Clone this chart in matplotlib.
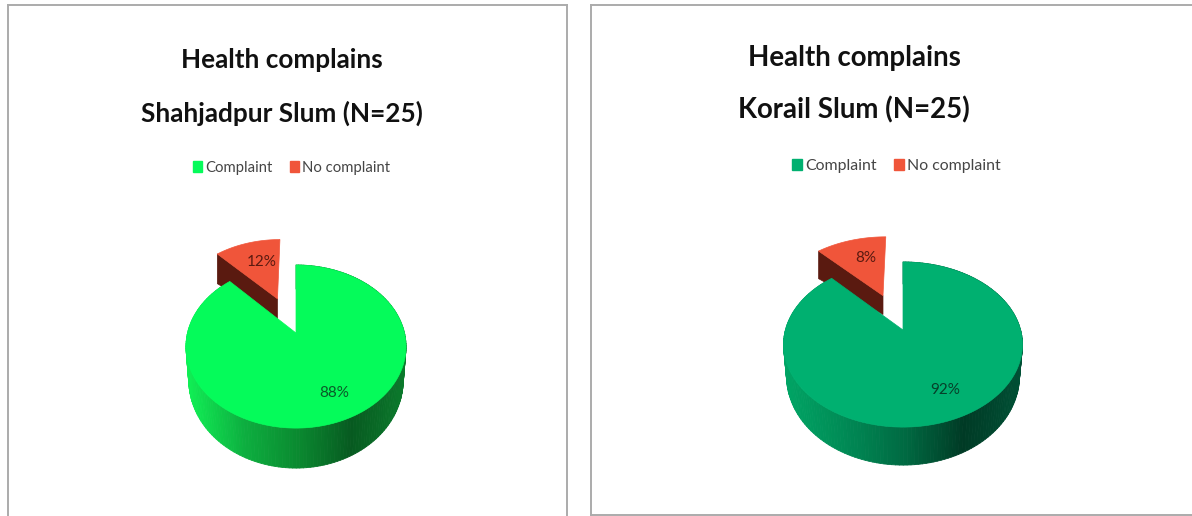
#!/usr/bin/env python3
# Two pseudo-3D exploded pies. ax.pie gives the wedges on the unit disc, a small
# perspective projection then puts them on screen (pixel coordinates per panel).
import numpy as np
import matplotlib
matplotlib.use("Agg")
import matplotlib.pyplot as plt
from matplotlib.collections import PolyCollection
from matplotlib.colors import LinearSegmentedColormap
from matplotlib.patches import Patch, Polygon

plt.rcParams["font.family"] = ["Lato", "DejaVu Sans"]

W, H = 1192, 516

categories = ["Complaint", "No complaint"]
titles_left = ["Health complains", "Shahjadpur Slum (N=25)"]
titles_right = ["Health complains", "Korail Slum (N=25)"]

# printed labels
labels_left = ["88%", "12%"]
labels_right = ["92%", "8%"]
# slice sizes as actually drawn (the Korail pie is drawn 88/12 too despite its labels)
shares_left = [88, 12]
shares_right = [88, 12]

RED = "#f0553a"
RED_DARK = "#5a1a10"


def project(x, y, v):
    """Unit disc -> pixels. v = (vertex x, vertex y, B, A, k)."""
    x0, y0, b, a, k = v
    d = 1 - k * y
    return x0 + b * x / d, y0 - a * y / d


def depth(y, base):
    return base - 8 * y


def arc(w, n=200):
    t = np.radians(np.linspace(w.theta1, w.theta2, n))
    return w.center[0] + w.r * np.cos(t), w.center[1] + w.r * np.sin(t)


def face(w, v):
    x, y = arc(w)
    px, py = project(np.r_[w.center[0], x], np.r_[w.center[1], y], v)
    return np.column_stack([px, py])


def draw_pie(ax, shares, v, base, color, cmap):
    # wedges come from ax.pie on a throwaway axes
    tmp = ax.figure.add_axes([0, 0, 0.1, 0.1])
    wedges, _ = tmp.pie(shares, explode=[0, 0.5], startangle=90, counterclock=False)
    tmp.remove()
    green, red = wedges

    # wall of the big slice, shaded by x; the lower rim is a little narrower
    x, y = arc(green)
    px, py = project(x, y, v)
    cx = (px.min() + px.max()) / 2
    qx = cx + (px - cx) * 0.975
    qy = py + depth(y, base)
    quads, mids = [], []
    for i in range(len(px) - 1):
        if px[i + 1] == px[i]:
            continue
        quads.append([(px[i], py[i]), (px[i + 1], py[i + 1]),
                      (qx[i + 1], qy[i + 1]), (qx[i], qy[i])])
        mids.append((px[i] - px.min()) / (px.max() - px.min()))
    cols = cmap(np.array(mids))
    ax.add_collection(PolyCollection(quads, facecolors=cols, edgecolors=cols, linewidths=0.6, zorder=2))

    # cut face of the red slice, then red top
    f = face(red, v)
    apex = f[0]
    rim = f[-1]
    ey_apex = depth(red.center[1], base) * 0.72
    ey_rim = depth(red.center[1], base) * 1.05
    ax.add_patch(Polygon([apex, rim, (rim[0], rim[1] + ey_rim), (apex[0], apex[1] + ey_apex)],
                         fc=RED_DARK, ec=RED_DARK, lw=0.5, zorder=2))
    ax.add_patch(Polygon(f, fc=RED, ec=RED, lw=0.5, zorder=3))
    ax.add_patch(Polygon(face(green, v), fc=color, ec=color, lw=0.5, zorder=4))


def panel(fig, x0, x1, y0, y1, bottom, right):
    ax = fig.add_axes([x0 / W, 1 - y1 / H, (x1 - x0) / W, (y1 - y0) / H])
    ax.set_xlim(x0, x1)
    ax.set_ylim(y1, y0)
    ax.set_xticks([])
    ax.set_yticks([])
    for s in ax.spines.values():
        s.set_color("#ababab")
        s.set_linewidth(1.4)
    ax.spines["bottom"].set_visible(bottom)
    ax.spines["right"].set_visible(right)
    return ax


def legend(ax, color, x, y, size, gap):
    h = [Patch(fc=color, ec=color), Patch(fc=RED, ec=RED)]
    ax.legend(h, categories, ncol=2, loc="center left", bbox_to_anchor=(x, y),
              bbox_transform=ax.transData, frameon=False, fontsize=size,
              labelcolor="#454545", handlelength=0.62, handleheight=0.75,
              handletextpad=0.2, columnspacing=gap, borderpad=0, borderaxespad=0)


def titles(ax, lines, cx, ys, size):
    for t, y in zip(lines, ys):
        ax.text(cx, y, t, ha="center", va="center", fontsize=size, fontweight="bold", color="#111111")


fig = plt.figure(figsize=(W / 100, H / 100), dpi=100, facecolor="white")

# left panel
ax = panel(fig, 8, 567, 5, 516, False, True)
titles(ax, titles_left, 282, [60, 113], 18.8)
legend(ax, "#05fb5a", 193, 168, 10.7, 1.14)
cm_left = LinearSegmentedColormap.from_list("l", ["#10f055", "#0db040", "#0a8a30", "#075a20", "#0b7a2c"])
draw_pie(ax, shares_left, (296, 333, 108.5, 79.3, -0.166), 32, "#05fb5a", cm_left)
ax.text(334, 393, labels_left[0], ha="center", va="center", fontsize=11, color="#0a5a28", zorder=5)
ax.text(262, 262, labels_left[1], ha="center", va="center", fontsize=11, color="#5a1a10", zorder=5)

# right panel
ax = panel(fig, 591, 1192, 5, 515, True, False)
titles(ax, titles_right, 854, [58, 110], 19.9)
legend(ax, "#00b070", 792, 166, 11.4, 1.12)
cm_right = LinearSegmentedColormap.from_list("r", ["#00a565", "#008a55", "#006a42", "#003a25", "#005035"])
draw_pie(ax, shares_right, (903, 330, 117.6, 80, -0.176), 30, "#00b070", cm_right)
ax.text(945, 390, labels_right[0], ha="center", va="center", fontsize=11, color="#063f2a", zorder=5)
ax.text(866, 258, labels_right[1], ha="center", va="center", fontsize=11, color="#5a1a10", zorder=5)

fig.savefig("out.png", dpi=100)
